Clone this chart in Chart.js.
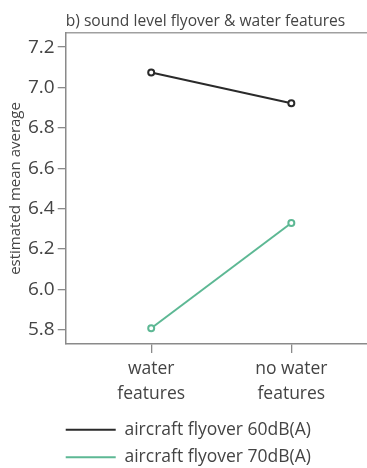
<!DOCTYPE html>
<html lang="en">
<head>
    <meta charset="UTF-8">
    <title>Sound level flyover & water features</title>
    <script src="https://cdn.jsdelivr.net/npm/chart.js"></script>
    <style>
        html, body { margin: 0; padding: 0; background: #fff; }
        .chart-box { width: 367px; height: 468px; }
    </style>
</head>
<body>
    <div class="chart-box">
        <canvas id="flyoverChart"></canvas>
    </div>

    <script>
        // Data
        const chartTitle = 'b) sound level flyover & water features';
        const categories = [['water', 'features'], ['no water', 'features']];
        const yTicks = [5.8, 6.0, 6.2, 6.4, 6.6, 6.8, 7.0, 7.2];
        const flyover60 = [7.074, 6.922];
        const flyover70 = [5.808, 6.329];
        const seriesNames = ['aircraft flyover 60dB(A)', 'aircraft flyover 70dB(A)'];

        const textColor = '#444';
        const axisColor = '#8a8a8a';
        const fontFamily = '"Open Sans", sans-serif';
        const legendPad = 10;

        // title sits left-aligned with the plot frame; legend starts under the y axis
        const framePlugin = {
            id: 'frameTitle',
            afterLayout(chart) {
                const lg = chart.legend;
                const shift = chart.chartArea.left - legendPad - lg.left;
                lg.left += shift;
                lg.right += shift;
            },
            afterDraw(chart) {
                const ctx = chart.ctx;
                const area = chart.chartArea;
                ctx.save();
                ctx.font = '15.6px ' + fontFamily;
                ctx.fillStyle = textColor;
                ctx.textBaseline = 'middle';
                ctx.fillText(chartTitle, area.left, area.top - 11);
                ctx.restore();
            }
        };

        const toPoints = vals => vals.map((v, i) => ({ x: i, y: v }));

        const ctx = document.getElementById('flyoverChart').getContext('2d');
        const chart = new Chart(ctx, {
            type: 'line',
            data: {
                datasets: [
                    {
                        label: seriesNames[0],
                        data: toPoints(flyover60),
                        borderColor: '#2a2a2a',
                        backgroundColor: '#ffffff',
                        borderWidth: 2,
                        pointRadius: 3,
                        pointBorderWidth: 2,
                        tension: 0
                    },
                    {
                        label: seriesNames[1],
                        data: toPoints(flyover70),
                        borderColor: '#5db894',
                        backgroundColor: '#ffffff',
                        borderWidth: 2,
                        pointRadius: 3,
                        pointBorderWidth: 2,
                        tension: 0
                    }
                ]
            },
            options: {
                responsive: true,
                maintainAspectRatio: false,
                animation: false,
                layout: { autoPadding: false, padding: { left: 4, right: 0, top: 33, bottom: -8 } },
                plugins: {
                    title: { display: false },
                    tooltip: { enabled: false },
                    legend: {
                        position: 'bottom',
                        align: 'start',
                        labels: {
                            usePointStyle: true,
                            pointStyle: 'line',
                            pointStyleWidth: 50,
                            boxHeight: 17.5,
                            padding: legendPad,
                            color: textColor,
                            font: { family: fontFamily, size: 17.5 },
                            generateLabels(chart) {
                                return chart.data.datasets.map((ds, i) => ({
                                    text: ds.label,
                                    strokeStyle: ds.borderColor,
                                    fillStyle: ds.borderColor,
                                    lineWidth: 2,
                                    pointStyle: 'line',
                                    fontColor: textColor,
                                    hidden: false,
                                    datasetIndex: i
                                }));
                            }
                        }
                    }
                },
                scales: {
                    x: {
                        type: 'linear',
                        min: -0.61,
                        max: 1.54,
                        afterBuildTicks(scale) {
                            scale.ticks = categories.map((_, i) => ({ value: i }));
                        },
                        ticks: {
                            color: textColor,
                            font: { family: fontFamily, size: 17.5, lineHeight: 1.43 },
                            padding: 4,
                            maxRotation: 0,
                            callback: value => categories[value]
                        },
                        grid: { drawOnChartArea: false, tickLength: 9, color: axisColor, lineWidth: 1.3 },
                        border: { color: axisColor, width: 1.5 }
                    },
                    xTop: {
                        type: 'linear',
                        position: 'top',
                        min: 0,
                        max: 1,
                        afterBuildTicks(scale) {
                            scale.ticks = [];
                        },
                        ticks: { display: false },
                        grid: { display: false, drawTicks: false },
                        border: { color: '#a0a0a0', width: 1.5 }
                    },
                    y: {
                        min: 5.73,
                        max: 7.27,
                        afterBuildTicks(scale) {
                            scale.ticks = yTicks.map(v => ({ value: v }));
                        },
                        ticks: {
                            color: textColor,
                            font: { family: fontFamily, size: 19 },
                            padding: 3,
                            callback: value => value.toFixed(1)
                        },
                        grid: { drawOnChartArea: false, tickLength: 8, color: axisColor, lineWidth: 1.3 },
                        border: { color: axisColor, width: 1.5 },
                        title: {
                            display: true,
                            text: 'estimated mean average',
                            color: textColor,
                            font: { family: fontFamily, size: 15 },
                            padding: { top: 3, bottom: 0 }
                        }
                    }
                }
            },
            plugins: [framePlugin]
        });
    </script>
</body>
</html>
